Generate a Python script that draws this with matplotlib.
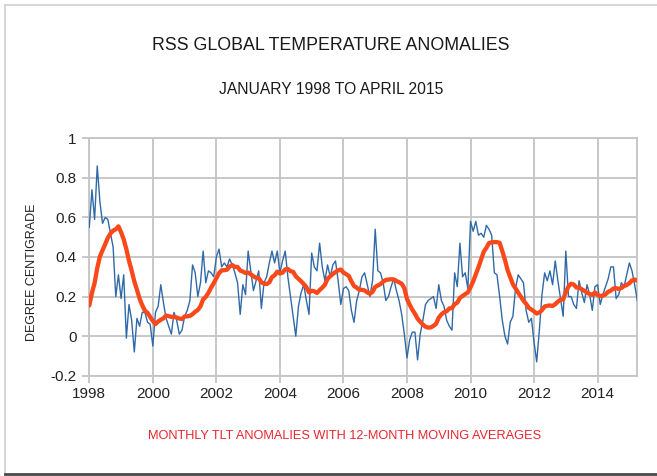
import numpy as np
import pandas as pd
import matplotlib
matplotlib.use("Agg")
import matplotlib.pyplot as plt
from matplotlib.lines import Line2D

# ---------------- data ----------------
# Feb-Dec 1997 values: only used to start the trailing 12-month average
prior_1997 = [-0.03, 0.00, -0.05, -0.02, 0.20, 0.22, 0.21, 0.25, 0.28, 0.12, 0.13]

y1998 = [0.55, 0.74, 0.59, 0.86, 0.68, 0.57, 0.60, 0.59, 0.52, 0.45, 0.20, 0.31]
y1999 = [0.19, 0.31, -0.01, 0.16, 0.08, -0.08, 0.09, 0.05, 0.12, 0.12, 0.07, 0.06]
y2000 = [-0.05, 0.12, 0.15, 0.26, 0.17, 0.09, 0.05, 0.01, 0.12, 0.08, 0.01, 0.03]
y2001 = [0.10, 0.13, 0.18, 0.36, 0.32, 0.20, 0.27, 0.43, 0.27, 0.33, 0.32, 0.30]
y2002 = [0.40, 0.44, 0.35, 0.37, 0.35, 0.39, 0.36, 0.32, 0.27, 0.11, 0.26, 0.21]
y2003 = [0.43, 0.33, 0.23, 0.28, 0.33, 0.14, 0.27, 0.30, 0.37, 0.43, 0.37, 0.43]
y2004 = [0.32, 0.38, 0.43, 0.30, 0.20, 0.10, 0.00, 0.15, 0.22, 0.26, 0.18, 0.11]
y2005 = [0.42, 0.35, 0.33, 0.47, 0.35, 0.28, 0.36, 0.30, 0.36, 0.38, 0.28, 0.16]
y2006 = [0.24, 0.25, 0.23, 0.13, 0.07, 0.18, 0.23, 0.30, 0.32, 0.26, 0.20, 0.28]
y2007 = [0.54, 0.33, 0.32, 0.27, 0.18, 0.20, 0.25, 0.29, 0.23, 0.18, 0.11, 0.01]
y2008 = [-0.11, -0.02, 0.02, 0.02, -0.12, 0.01, 0.08, 0.16, 0.18, 0.19, 0.20, 0.14]
y2009 = [0.26, 0.18, 0.15, 0.08, 0.05, 0.03, 0.32, 0.25, 0.47, 0.30, 0.32, 0.24]
y2010 = [0.58, 0.53, 0.58, 0.51, 0.52, 0.50, 0.56, 0.54, 0.51, 0.32, 0.31, 0.20]
y2011 = [0.08, 0.00, -0.04, 0.07, 0.10, 0.24, 0.31, 0.29, 0.27, 0.13, 0.07, 0.09]
y2012 = [-0.03, -0.13, 0.03, 0.21, 0.32, 0.28, 0.33, 0.26, 0.38, 0.28, 0.19, 0.10]
y2013 = [0.43, 0.20, 0.20, 0.16, 0.14, 0.28, 0.22, 0.17, 0.26, 0.21, 0.13, 0.25]
y2014 = [0.26, 0.16, 0.21, 0.25, 0.29, 0.35, 0.35, 0.19, 0.21, 0.27, 0.25, 0.31]
y2015 = [0.37, 0.33, 0.26, 0.18]

x_ticks = [1998, 2000, 2002, 2004, 2006, 2008, 2010, 2012, 2014]
y_ticks = [-0.2, 0, 0.2, 0.4, 0.6, 0.8, 1]
y_tick_labels = ["-0.2", "0", "0.2", "0.4", "0.6", "0.8", "1"]

title = "RSS GLOBAL TEMPERATURE ANOMALIES"
subtitle = "JANUARY 1998 TO APRIL 2015"
ylabel = "DEGREE CENTIGRADE"
caption = "MONTHLY TLT ANOMALIES WITH 12-MONTH MOVING AVERAGES"

# ---------------- assemble ----------------
monthly = (y1998 + y1999 + y2000 + y2001 + y2002 + y2003 + y2004 + y2005 + y2006
           + y2007 + y2008 + y2009 + y2010 + y2011 + y2012 + y2013 + y2014 + y2015)
dates = pd.date_range("1998-01-01", periods=len(monthly), freq="MS")
t = dates.year + (dates.month - 1) / 12.0
full = pd.Series(prior_1997 + monthly)
ma12 = full.rolling(12).mean().iloc[len(prior_1997):].to_numpy()

# ---------------- fonts ----------------
plt.rcParams["font.family"] = ["Liberation Sans", "DejaVu Sans"]

# ---------------- figure ----------------
W, H = 657, 476
fig = plt.figure(figsize=(W / 100, H / 100), dpi=100)
fig.patch.set_facecolor("white")

# frame around the picture
fig.add_artist(Line2D([5 / W, 5 / W], [0.004, 1 - 5 / H], color="#cfcfcf", lw=1.2))
fig.add_artist(Line2D([5 / W, 1.0], [1 - 5 / H, 1 - 5 / H], color="#cfcfcf", lw=1.2))
fig.add_artist(Line2D([5 / W, 1.0], [2 / H, 2 / H], color="#4a4a4a", lw=2.0))

left, right, top, bottom = 89.3, 637.3, 138.3, 375.7
ax = fig.add_axes([left / W, 1 - bottom / H, (right - left) / W, (bottom - top) / H])

grid_c = "#c4c4c4"
ax.set_xlim(1998, 1998 + (len(monthly) - 1) / 12.0)
ax.set_ylim(-0.2, 1.0)
ax.set_xticks(x_ticks)
ax.set_xticklabels([str(v) for v in x_ticks])
ax.set_yticks(y_ticks)
ax.set_yticklabels(y_tick_labels)
ax.grid(True, color=grid_c, lw=1.3)
ax.set_axisbelow(True)
for s in ax.spines.values():
    s.set_color(grid_c)
    s.set_linewidth(1.3)
ax.tick_params(axis="both", colors=grid_c, length=5, width=1.3, labelcolor="#222222",
               labelsize=11)
ax.tick_params(axis="x", pad=3)
ax.tick_params(axis="y", pad=4)

ax.plot(t, monthly, color="#3069a8", lw=1.0, zorder=3)
ax.plot(t, ma12, color="#f9491b", lw=3.1, solid_capstyle="round", zorder=4)

t1 = fig.text(331 / W, 1 - 45 / H, title, ha="center", va="center", fontsize=14.5, color="#1a1a1a")
t2 = fig.text(331 / W, 1 - 90 / H, subtitle, ha="center", va="center", fontsize=12, color="#1a1a1a")
t3 = fig.text(345 / W, 1 - 436 / H, caption, ha="center", va="center", fontsize=10.5, color="#e8252d")
t4 = fig.text(32 / W, 1 - 272 / H, ylabel, ha="center", va="center", rotation=90,
              fontsize=9.0, color="#222222")

# fit the text widths to the extents measured on the reference
fig.canvas.draw()
renderer = fig.canvas.get_renderer()
for txt, target in [(t1, 357), (t2, 225), (t3, 399)]:
    bb = txt.get_window_extent(renderer)
    txt.set_fontsize(txt.get_fontsize() * target / bb.width)

fig.savefig("out.png", dpi=100, facecolor="white")
